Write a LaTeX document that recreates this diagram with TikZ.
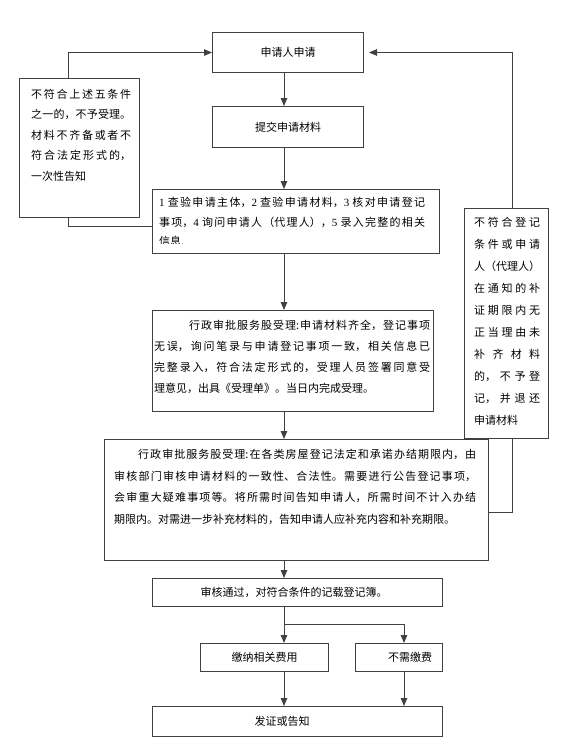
\documentclass[tikz,border=0pt]{standalone}
\usepackage{fontspec}
\setmainfont{Noto Sans CJK SC}
\newfontfamily\lat{Liberation Serif}
\usetikzlibrary{arrows.meta}
\XeTeXlinebreaklocale "zh"
\XeTeXlinebreakskip=0pt plus 6pt
\definecolor{ln}{RGB}{64,64,64}
\tikzset{
  box/.style={draw=ln, line width=1pt, rectangle, inner sep=0pt, anchor=north west,
    font=\fontsize{11pt}{13pt}\selectfont, text=black},
  txt/.style={anchor=north west, inner sep=0pt, align=justify, text=black,
    execute at begin node={\tolerance=10000\hbadness=10000}},
  conn/.style={draw=ln, line width=1pt},
  arr/.style={conn, -{Triangle[length=8pt,width=6.5pt]}}
}
\begin{document}
\begin{tikzpicture}[x=1pt,y=-1pt]
\useasboundingbox[fill=white] (0,0) rectangle (579,744);
% helper coordinates
\coordinate (ax) at (284,0);
\coordinate (bx) at (404,0);
\coordinate (lx) at (68,0);
\coordinate (rx) at (512,0);
\coordinate (ly) at (0,226);
\coordinate (ry) at (0,512);
\coordinate (by) at (0,624);
% boxes
\node[box, minimum width=151pt, minimum height=40pt] (b0) at (212,32) {申请人申请};
\node[box, minimum width=151pt, minimum height=41pt] (bs) at (212,106) {提交申请材料};
\node[box, minimum width=120pt, minimum height=139pt] (lb) at (19,78) {};
\node[txt, text width=100pt, font=\fontsize{11pt}{20.5pt}\selectfont] (lbt) at (31,89)
  {不符合上述五条件\linebreak 之一的，不予受理。\linebreak 材料不齐备或者不\linebreak 符合法定形式的，\linebreak 一次性告知};
\node[box, minimum width=287pt, minimum height=64pt] (b1) at (152,189) {};
\begin{scope}
  \clip (152,189) rectangle (439,243.5);
  \node[txt, text width=266pt, font=\fontsize{11pt}{19.5pt}\selectfont] (b1t) at (159,197)
    {{\lat 1 }查验申请主体，{\lat 2 }查验申请材料，{\lat 3 }核对申请登记\linebreak 事项，{\lat 4 }询问申请人（代理人），{\lat 5 }录入完整的相关\linebreak 信息.};
\end{scope}
\node[box, minimum width=84pt, minimum height=230pt] (rb) at (464,208) {};
\node[txt, text width=66pt, font=\fontsize{11pt}{22pt}\selectfont] (rbt) at (474,217)
  {不符合登记\linebreak 条件或申请\linebreak 人（代理人）\linebreak 在通知的补\linebreak 证期限内无\linebreak 正当理由未\linebreak 补齐材料\linebreak 的，不予登\linebreak 记，并退还\linebreak 申请材料};
\node[box, minimum width=281pt, minimum height=101pt] (b2) at (152,310) {};
\node[txt, text width=276pt, font=\fontsize{11pt}{21pt}\selectfont] (b2t) at (154,320)
  {\hspace*{35pt}行政审批服务股受理:申请材料齐全，登记事项\linebreak 无误，询问笔录与申请登记事项一致，相关信息已\linebreak 完整录入，符合法定形式的，受理人员签署同意受\linebreak 理意见，出具《受理单》。当日内完成受理。};
\node[box, minimum width=384pt, minimum height=121pt] (b3) at (104,439) {};
\node[txt, text width=362pt, font=\fontsize{11pt}{21.7pt}\selectfont] (b3t) at (114,449)
  {\hspace*{24pt}行政审批服务股受理:在各类房屋登记法定和承诺办结期限内，由\linebreak 审核部门审核申请材料的一致性、合法性。需要进行公告登记事项，\linebreak 会审重大疑难事项等。将所需时间告知申请人，所需时间不计入办结\linebreak 期限内。对需进一步补充材料的，告知申请人应补充内容和补充期限。\hskip 0pt plus -1fil};
\node[box, minimum width=290pt, minimum height=28pt] (b4) at (152,578) {审核通过，对符合条件的记载登记簿。\hspace*{7pt}};
\node[box, minimum width=128pt, minimum height=28pt] (b5a) at (200,643) {缴纳相关费用};
\node[box, minimum width=87pt, minimum height=28pt] (b5b) at (355,643) {\hspace*{22pt}不需缴费};
\node[box, minimum width=290pt, minimum height=30pt] (b6) at (152,706) {发证或告知\hspace*{31pt}};
% connectors
\draw[arr] (b0.south -| ax) -- (bs.north -| ax);
\draw[arr] (bs.south -| ax) -- (b1.north -| ax);
\draw[arr] (b1.south -| ax) -- (b2.north -| ax);
\draw[arr] (b2.south -| ax) -- (b3.north -| ax);
\draw[arr] (b3.south -| ax) -- (b4.north -| ax);
\draw[arr] (b4.south -| ax) -- (b5a.north -| ax);
\draw[arr] (ax |- by) -| (b5b.north -| bx);
\draw[arr] (b5a.south -| ax) -- (b6.north -| ax);
\draw[arr] (b5b.south -| bx) -- (b6.north -| bx);
\draw[arr] (lb.north -| lx) |- (b0.west);
\draw[conn] (lb.south -| lx) |- (b1.west |- ly);
\draw[arr, shorten >=5pt] (rb.north -| rx) |- (b0.east);
\draw[conn] (rb.south -| rx) |- (b3.east |- ry);
\end{tikzpicture}
\end{document}
